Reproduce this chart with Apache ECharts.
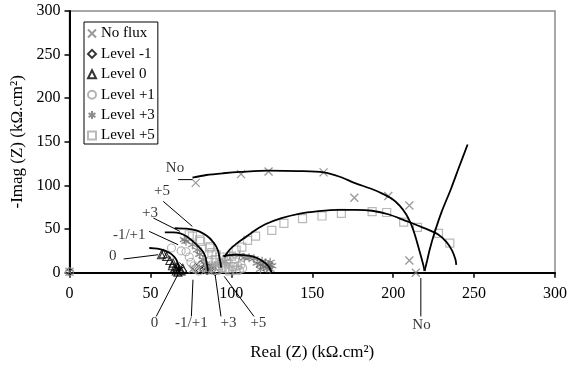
<!DOCTYPE html>
<html>
<head>
<meta charset="utf-8">
<script src="https://cdn.jsdelivr.net/npm/echarts@6/dist/echarts.min.js"></script>
<style>html,body{margin:0;padding:0;background:#fff}#c{width:570px;height:366px}</style>
</head>
<body>
<div id="c"></div>
<script>
// ---- data (Real Z, -Imag Z in kOhm.cm2) ----
const xTicks = [0, 50, 100, 150, 200, 250, 300];
const yTicks = [0, 50, 100, 150, 200, 250, 300];
const seriesNames = ['No flux', 'Level -1', 'Level 0', 'Level +1', 'Level +3', 'Level +5'];

const noFlux = [[0,1],[76,4],[78,103],[106,113],[123,116],[157,115],[176,86],[197,88],[210,77],[210,14],[214,0]];
const levelM1 = [[0,1],[66,3],[68,7],[70,2],[78,6],[80,4],[81,9],[83,3],[84,7],[85,2],[86,5],[88,3],[90,1]];
const level0 = [[56.8,20.6],[58,21.8],[60,18.5],[62,14],[63.6,8],[64,11],[65,5.4],[66,2],[66.5,7],[67,0.5],[68,4],[69,2],[70,5]];
const levelP1 = [[0,1],[63,28.3],[69,25],[72,24],[74,18],[75,12],[77,8],[78,4],[80,2],[82,6],[85,3],[88,5],[92,3],[95,6],[98,4],[101,7],[104,8],[105,3],[106,9],[107,5]];
const levelP3 = [[71,38],[72,36],[76,32],[79,26],[80.5,21],[82.5,15],[84,10],[85,6],[86,3],[88,8],[92,10],[96,13],[99,20],[105,20],[108,17],[111,17],[114,16],[116,11],[118,9],[119,13],[120,7],[121,11],[122,5],[123,9],[124,4],[125,8],[124,12],[118,4]];
const levelP5 = [[74,43.5],[76,42],[80.4,37.8],[81,36],[86.5,28.3],[87,30],[88,23],[90.6,20.6],[86,12],[87,6],[90,3],[90,15],[92,8],[93,18],[94,12],[96,5],[97,15],[98,10],[99,2],[100,19],[101,7],[102,12],[103,26],[103,3],[106.5,29.4],[110,37],[115,42],[125,48.5],[132.5,56.5],[144,62],[156,65],[168,68],[187,70],[196,69],[206.5,58],[215,52],[228,45],[235,34]];

// fitted curves
const fitNoArc = [[76,109],[84.6,112],[95,114],[106,115.5],[123,117],[141.7,116.5],[157,115],[167,110],[176,103],[186,96.5],[193,91],[199,85],[204,77],[208,67],[211,56],[213.5,43],[215.5,30],[217.3,18],[218.6,9],[219.4,2]];
const fitNoTail = [[219.4,2],[221,14],[222.5,26],[225.6,46],[230,70],[235.7,96],[240.5,120],[246,147]];
const fitP5Big = [[95.7,18],[98.8,26],[103,33],[109,41],[115,49],[121,55.5],[131,62.5],[141.7,67.5],[154,70.5],[166,72],[177,72],[187,71],[197,67],[207,60],[218,52],[227.6,44],[233,35],[236.5,25],[238.5,15],[239,9]];
const fitP5Small = [[65,51.2],[72,50.5],[78.3,48.5],[83,44.5],[86.5,39.8],[89,34.5],[90.6,30.2],[92,24],[92.8,16],[93.4,10],[93.7,5.7]];
const fitP3Small = [[58.9,46.2],[64,46.2],[68,45.3],[72.5,41.5],[76.3,35.9],[79.7,30],[82.4,24.4],[84,18],[84.8,11],[85.3,5],[85.5,1.5]];
const fitP3Low = [[95,19],[99,20.2],[103,20.6],[108,20.2],[113,18.7],[117.5,15.5],[121,11],[123.5,6],[125,0]];
const fit0 = [[49.3,28.3],[52.5,28],[55.8,27.1],[59,25.3],[62,22.5],[64.3,19],[66,15],[67.1,10],[67.7,5.4],[68,0]];

// annotations: text, label anchor, leader line (data coordinates)
const annoTexts = ['No', '+5', '+3', '-1/+1', '0', '0', '-1/+1', '+3', '+5', 'No'];
const annoAnchors = [[65.2,120],[57.2,94],[49.8,68.8],[36.9,43.5],[26.8,19.5],[52.5,-57.7],[75.3,-57.7],[98.3,-57.7],[116.7,-57.7],[217.5,-59.6]];
const annoLeaders = [
  [[67.1,106.7],[75.9,106.7]],
  [[57.9,81.8],[75.9,53.1]],
  [[51.8,62.7],[68.2,47.4]],
  [[49.2,47.4],[67.1,32.1]],
  [[33.4,15.7],[54.8,20.6]],
  [[53.6,-50.1],[66.9,-2.3]],
  [[75.3,-50.1],[76.3,-8]],
  [[93.6,-50.1],[90,-2.3]],
  [[114,-50.1],[95.6,-4.2]],
  [[217.1,-50.1],[217.1,-6.1]]
];

const FONT = 'Liberation Serif';
const symX = 'path://M0,0L10,10M10,0L0,10';
const symStar = 'path://M5,0L5,10M0.7,2.5L9.3,7.5M0.7,7.5L9.3,2.5';
const hollow = (c, w) => ({ color: 'rgba(255,255,255,0)', borderColor: c, borderWidth: w || 1 });

const scatterDefs = [
  { data: noFlux, symbol: symX, size: 8, color: '#808080', w: 1.3 },
  { data: levelM1, symbol: 'diamond', size: 8, color: '#000', w: 1 },
  { data: level0, symbol: 'triangle', size: 8, color: '#000', w: 1.1 },
  { data: levelP1, symbol: 'circle', size: 8, color: '#a0a0a0', w: 1.1 },
  { data: levelP3, symbol: symStar, size: 9, color: '#707070', w: 1.3 },
  { data: levelP5, symbol: 'rect', size: 8, color: '#a8a8a8', w: 1.2 }
];

const series = [];
scatterDefs.forEach((d, i) => {
  series.push({
    name: seriesNames[i], type: 'scatter', data: d.data, symbol: d.symbol, symbolSize: d.size,
    itemStyle: hollow(d.color, d.w), z: 3, silent: true
  });
});
[fitNoArc, fitNoTail, fitP5Big, fitP5Small, fitP3Small, fitP3Low, fit0].forEach(f => {
  series.push({
    type: 'line', data: f, smooth: 0.3, showSymbol: false, symbol: 'none',
    lineStyle: { color: '#000', width: 1.8 }, z: 4, silent: true
  });
});
annoLeaders.forEach(l => {
  series.push({
    type: 'line', data: l, showSymbol: false, symbol: 'none', clip: false,
    lineStyle: { color: '#000', width: 1 }, z: 5, silent: true
  });
});
series.push({
  type: 'scatter', clip: false, silent: true, z: 6, symbolSize: 0,
  data: annoAnchors.map((p, i) => ({ value: p, label: { formatter: annoTexts[i] } })),
  label: { show: true, position: 'inside', color: '#000', fontFamily: FONT, fontSize: 15 }
});

const chart = echarts.init(document.getElementById('c'));
chart.setOption({
  animation: false,
  backgroundColor: '#fff',
  grid: { left: 69.5, right: 12.3, top: 11, bottom: 93.3, show: true, borderColor: '#8c8c8c', borderWidth: 1.5, backgroundColor: 'transparent' },
  legend: {
    data: seriesNames, orient: 'vertical', left: 84, top: 22,
    borderColor: '#000', borderWidth: 1, padding: [4, 3, 1, 3],
    itemWidth: 8, itemHeight: 8, itemGap: 5.4,
    textStyle: { fontFamily: FONT, fontSize: 15, color: '#000' }
  },
  xAxis: {
    type: 'value', min: xTicks[0], max: xTicks[xTicks.length - 1], interval: xTicks[1] - xTicks[0],
    name: 'Real (Z) (kΩ.cm²)', nameLocation: 'middle', nameGap: 71,
    nameTextStyle: { fontFamily: FONT, fontSize: 17, color: '#000' },
    axisLine: { onZero: false, lineStyle: { color: '#000', width: 2 } },
    axisTick: { show: true, length: 5, inside: false, lineStyle: { color: '#000', width: 1.5 } },
    axisLabel: { fontFamily: FONT, fontSize: 16, color: '#000', margin: 13 },
    splitLine: { show: false }
  },
  yAxis: {
    type: 'value', min: yTicks[0], max: yTicks[yTicks.length - 1], interval: yTicks[1] - yTicks[0],
    name: '-Imag (Z) (kΩ.cm²)', nameLocation: 'middle', nameGap: 43,
    nameTextStyle: { fontFamily: FONT, fontSize: 17, color: '#000' },
    axisLine: { onZero: false, lineStyle: { color: '#000', width: 2 } },
    axisTick: { show: true, length: 5, inside: false, lineStyle: { color: '#000', width: 1.5 } },
    axisLabel: { fontFamily: FONT, fontSize: 16, color: '#000', margin: 9 },
    splitLine: { show: false }
  },
  series: series
});
</script>
</body>
</html>
